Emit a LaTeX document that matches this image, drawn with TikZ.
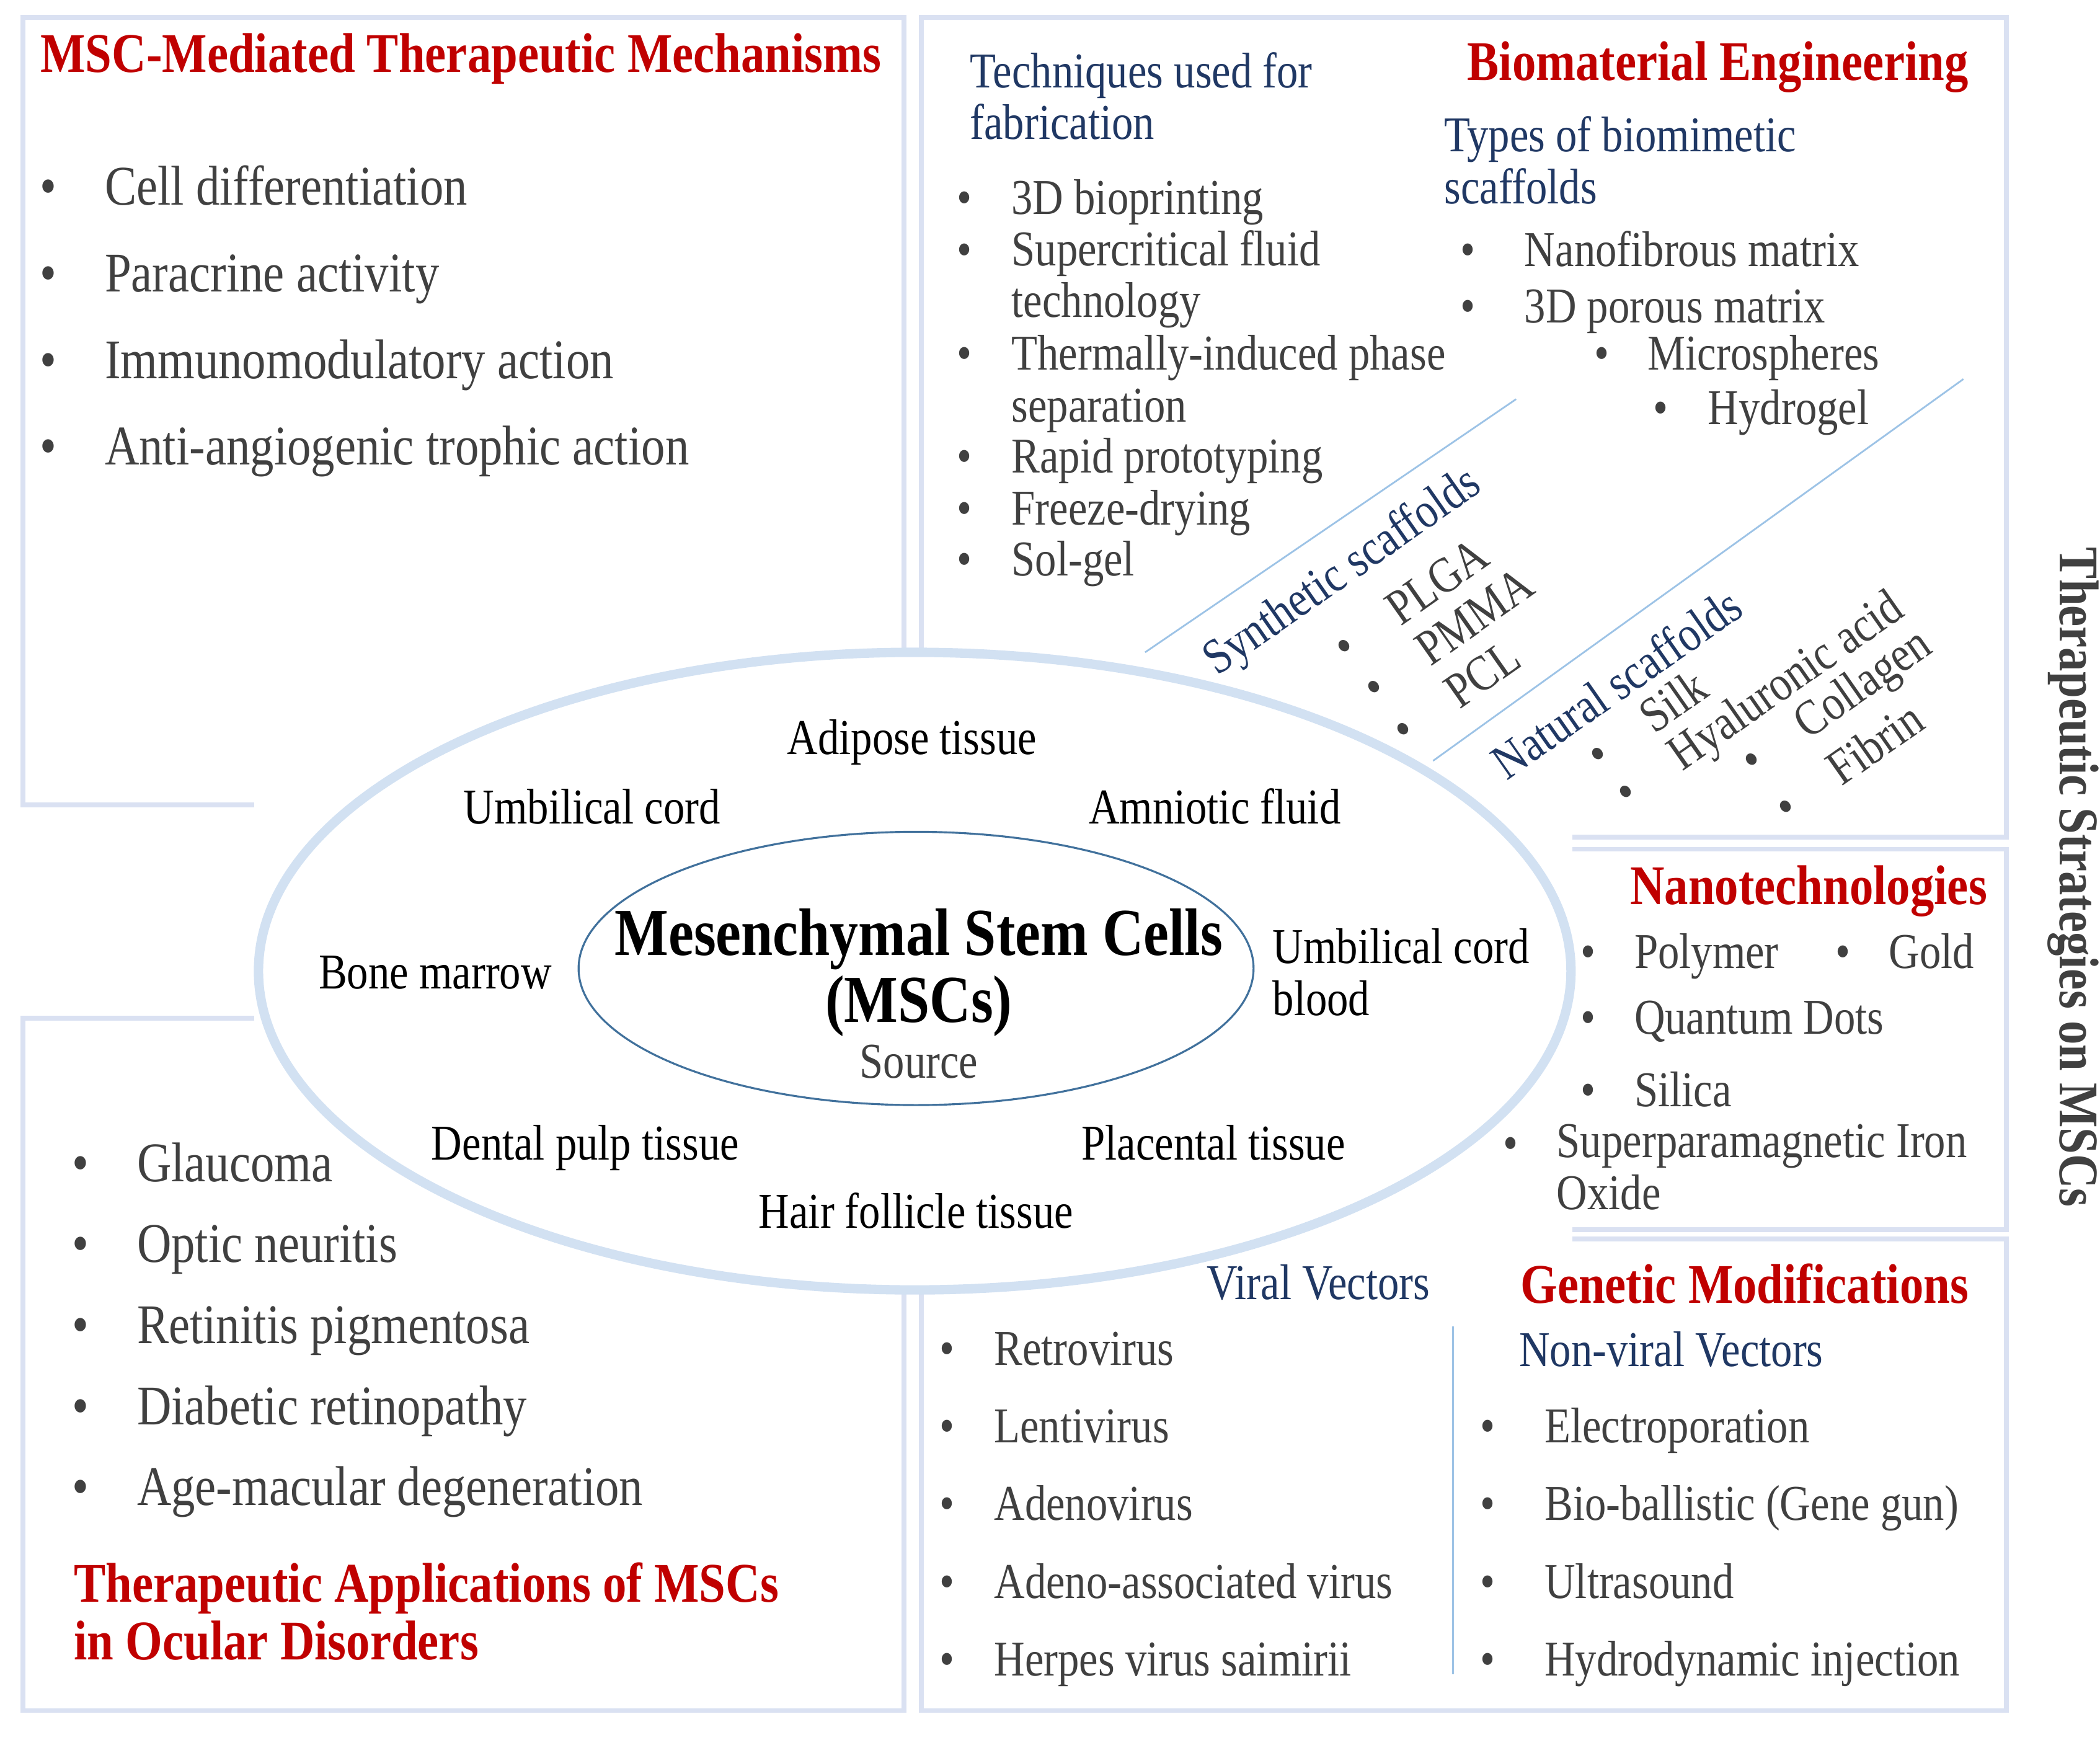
\documentclass[tikz,border=0pt]{standalone}
\usepackage{fontspec}
\setmainfont[FakeStretch=0.85]{Liberation Serif}
\usetikzlibrary{positioning}
\definecolor{titlered}{RGB}{192,0,0}
\definecolor{subblue}{RGB}{32,56,100}
\definecolor{itemgray}{RGB}{64,64,64}
\definecolor{frameblue}{RGB}{218,225,242}
\definecolor{ringblue}{RGB}{210,225,242}
\definecolor{coreblue}{RGB}{65,113,156}
\definecolor{slashblue}{RGB}{157,195,230}
\newcommand\smallsz{\fontsize{23}{23.8}\selectfont}
\newcommand\bigsz{\fontsize{25.7}{26.5}\selectfont}
\newcommand\coresz{\fontsize{30.8}{31}\selectfont}

\begin{document}
\begin{tikzpicture}[x=0.0216cm, y=-0.0216cm,
    frame/.style={line width=2.2pt, draw=frameblue},
    slash/.style={line width=0.8pt, draw=slashblue},
    head/.style={inner sep=0, anchor=base west, font=\bigsz\bfseries, text=titlered, align=left},
    sub/.style={inner sep=0, anchor=base west, font=\smallsz, text=subblue, align=left},
    item/.style={inner sep=0, anchor=base west, font=\smallsz, text=itemgray, align=left},
    bigitem/.style={item, font=\bigsz},
    dot/.style={inner sep=0, anchor=base, font=\smallsz, text=itemgray},
    bigdot/.style={dot, font=\bigsz},
    src/.style={inner sep=0, anchor=base, font=\smallsz, align=left},
    slant/.style={inner sep=0, anchor=west, font=\smallsz, text=itemgray, rotate=35}]
    \useasboundingbox (0,0) rectangle (1568,1299);

    % frames
    \draw[frame] (190,601) -- (17,601) -- (17,13) -- (675,13) -- (675,486);
    \draw[frame] (688,486) -- (688,13) -- (1498,13) -- (1498,625) -- (1174,625);
    \draw[frame] (1174,634) -- (1498,634) -- (1498,918) -- (1174,918);
    \draw[frame] (1174,925) -- (1498,925) -- (1498,1277) -- (688,1277) -- (688,962);
    \draw[frame] (190,760) -- (17,760) -- (17,1277) -- (675,1277) -- (675,962);
    \draw[slash] (855,487) -- (1132,298);
    \draw[slash] (1070,568) -- (1466,283);
    \draw[slash] (1085,990) -- (1085,1250);

    % sources
    \draw[ringblue, line width=4.3pt] (683,725) ellipse [x radius=490, y radius=238];
    \draw[coreblue, line width=0.9pt] (684,723) ellipse [x radius=252, y radius=102];
    \node[src, font=\coresz\bfseries] (msc) at (686,713) {Mesenchymal Stem Cells};
    \node[src, font=\coresz\bfseries] (msc2) at (686,763) {(MSCs)};
    \node[src, text=itemgray] (source) at (686,805) {Source};
    \foreach \x/\y/\t [count=\i] in {681/563/Adipose tissue, 442/615/Umbilical cord,
        907/615/Amniotic fluid, 325/738/Bone marrow, 437/866/Dental pulp tissue,
        906/866/Placental tissue, 684/917/Hair follicle tissue} {
      \node[src] (tissue\i) at (\x,\y) {\t};
    }
    \node[src, anchor=base west] (cordblood) at (950,758) {Umbilical cord\\blood};

    % mechanisms
    \node[head] (mechtitle) at (30,54) {MSC-Mediated Therapeutic Mechanisms};
    \foreach \t [count=\i] in {Cell differentiation, Paracrine activity,
        Immunomodulatory action, Anti-angiogenic trophic action} {
      \node[bigdot] (mechdot\i) at (36,88.3+64.7*\i) {\textbullet};
      \node[bigitem] (mech\i) at (78,88.3+64.7*\i) {\t};
    }

    % biomaterials
    \node[head, anchor=base east] (biotitle) at (1470,60) {Biomaterial Engineering};
    \node[sub] (techtitle) at (724,104) {Techniques used for\\fabrication};
    \node[sub] (typetitle) at (1078,152) {Types of biomimetic\\scaffolds};
    \foreach \y/\yb/\t [count=\i] in {160/160/3D bioprinting, 199/237/{Supercritical fluid\\technology},
        276/315/{Thermally-induced phase\\separation}, 353/353/Rapid prototyping,
        392/392/Freeze-drying, 430/430/Sol-gel} {
      \node[dot] (techdot\i) at (720,\y) {\textbullet};
      \node[item] (tech\i) at (755,\yb) {\t};
    }
    \foreach \bx/\tx/\y/\t [count=\i] in {1096/1138/199/Nanofibrous matrix,
        1096/1138/241/3D porous matrix, 1196/1230/276/Microspheres, 1240/1275/317/Hydrogel} {
      \node[dot] (typedot\i) at (\bx,\y) {\textbullet};
      \node[item] (type\i) at (\tx,\y) {\t};
    }
    \node[sub, rotate=35, anchor=center] (synth) at (1003,428) {Synthetic scaffolds};
    \node[sub, rotate=35, anchor=center] (natur) at (1207,510) {Natural scaffolds};
    \foreach \x/\y/\t [count=\i] in {1004/483/PLGA, 1026/513/PMMA, 1048/545/PCL,
        1193/563/Silk, 1216/594/Hyaluronic acid, 1310/570/Collagen, 1333/602/Fibrin} {
      \node[slant] (scaf\i) at (\x-5,\y+3) {\textbullet\quad\t};
    }

    % nanotechnologies
    \node[head, anchor=base east] (nanotitle) at (1484,675) {Nanotechnologies};
    \foreach \bx/\tx/\y/\yb/\t [count=\i] in {1186/1220/723/723/Polymer, 1376/1410/723/723/Gold,
        1186/1220/772/772/Quantum Dots, 1186/1220/826/826/Silica,
        1128/1162/866/903/{Superparamagnetic Iron\\Oxide}} {
      \node[dot] (nanodot\i) at (\bx,\y) {\textbullet};
      \node[item] (nano\i) at (\tx,\yb) {\t};
    }

    % genetic modifications
    \node[head] (genetitle) at (1135,973) {Genetic Modifications};
    \node[sub, anchor=base east] (viral) at (1068,970) {Viral Vectors};
    \node[sub] (nonviral) at (1134,1020) {Non-viral Vectors};
    \foreach \t [count=\i] in {Retrovirus, Lentivirus, Adenovirus,
        Adeno-associated virus, Herpes virus saimirii} {
      \node[dot] (viraldot\i) at (707,961+58*\i) {\textbullet};
      \node[item] (viral\i) at (742,961+58*\i) {\t};
    }
    \foreach \t [count=\i] in {Electroporation, {Bio-ballistic (Gene gun)},
        Ultrasound, Hydrodynamic injection} {
      \node[dot] (nonviraldot\i) at (1111,1019+58*\i) {\textbullet};
      \node[item] (nonviral\i) at (1153,1019+58*\i) {\t};
    }

    % ocular disorders
    \foreach \t [count=\i] in {Glaucoma, Optic neuritis, Retinitis pigmentosa,
        Diabetic retinopathy, Age-macular degeneration} {
      \node[bigdot] (eyedot\i) at (60,821.5+60.5*\i) {\textbullet};
      \node[bigitem] (eye\i) at (102,821.5+60.5*\i) {\t};
    }
    \node[head] (eyetitle) at (55,1239) {Therapeutic Applications of MSCs\\in Ocular Disorders};

    \node[rotate=-90, inner sep=0, font=\bigsz\bfseries, text=itemgray] (strategies) at (1548,655)
      {Therapeutic Strategies on MSCs};
\end{tikzpicture}
\end{document}
